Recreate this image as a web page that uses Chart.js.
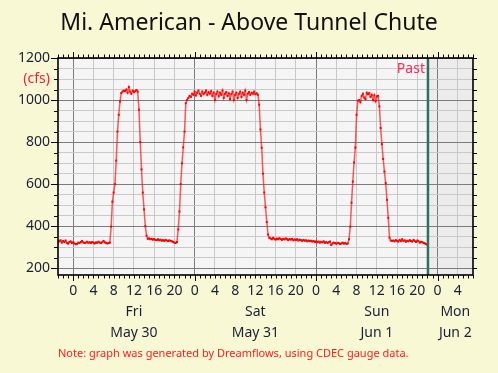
<!DOCTYPE html>
<html>
<head>
<meta charset="utf-8">
<script src="https://cdn.jsdelivr.net/npm/chart.js@4.4.1/dist/chart.umd.min.js"></script>
<style>
  html, body { margin: 0; padding: 0; background: #f8f8d4; }
  #wrap { width: 498px; height: 373px; }
</style>
</head>
<body>
<div id="wrap"><canvas id="flow" width="498" height="373"></canvas></div>
<script>
// readings every 15 min, first one 3 h before Fri May 30 0:00
const startHour = -3;
const stepHours = 0.25;
const flowCfs = [
  326, 328, 333, 322, 330, 325, 332, 321,
  317, 325, 328, 320, 324, 318, 315, 316,
  322, 320, 325, 330, 323, 320, 322, 326,
  321, 324, 320, 325, 322, 318, 323, 321,
  326, 322, 320, 324, 330, 323, 321, 318,
  320, 322,
  398, 517, 560, 600, 712, 850, 930, 993, 1033,
  1040, 1045, 1042, 1050, 1035, 1062, 1040, 1030, 1045, 1038, 1042, 1048, 1040,
  954, 800, 670, 560, 480, 400, 355, 340,
  342, 338, 340, 336, 339, 335, 334, 338, 333, 336, 331, 334,
  330, 335, 332, 329, 333, 330, 328, 326, 322, 320, 325,
  385, 470, 600, 700, 775, 850, 985, 1000, 1010,
  1020, 1015, 1030, 1025, 1040, 1022, 1035, 1045,
  1030, 1020, 1040, 1028, 1035, 1045, 1025, 1038,
  1030, 1042, 1020, 1035, 1000, 1028, 1040, 1018,
  1035, 1025, 1045, 1010, 1030, 1038, 1020, 1032,
  1005, 1028, 1040, 1000, 1025, 1035, 1010, 1030,
  1040, 1015, 1035, 1025, 1045, 1000, 1030, 1038,
  1025, 1035, 1030, 1040, 1028, 1032, 1025,
  978, 860, 773, 650, 560, 490, 420, 360, 345,
  342, 338, 345, 340, 336, 341, 338, 343,
  339, 335, 340, 337, 342, 338, 334, 339,
  336, 340, 333, 337, 335, 338, 332, 336,
  334, 330, 335, 331, 333, 328, 332, 329,
  331, 327, 330, 325, 328, 324, 327, 322,
  326, 323, 328, 321, 325, 320, 324, 327,
  311, 318, 322, 320, 316, 321, 319, 315,
  318, 322, 317, 320, 316, 318,
  338, 398, 512, 612, 703, 774, 930, 997,
  1000, 990, 1020, 1030, 1012, 1005, 1035, 1028,
  1033, 1015, 1025, 1000, 1022, 995, 1018, 1020,
  970, 867, 790, 720, 660, 605, 525, 440, 345, 332,
  330, 332, 328, 334, 330, 327, 335, 329,
  338, 330, 333, 326, 331, 328, 334, 330,
  327, 335, 329, 325, 332, 328, 322, 326,
  324, 320, 318, 315, 311
];
const dayNames = ['Fri', 'Sat', 'Sun', 'Mon'];
const dayDates = ['May 30', 'May 31', 'Jun 1', 'Jun 2'];
const xMin = -3, xMax = 79;
const yMin = 168, yMax = 1200;
const yTickStep = 50;
const pastHour = 70.1;

const FONT = "'Noto Sans', 'Open Sans', sans-serif";
const INK = '#1a2036';

const points = flowCfs.map((v, i) => ({ x: startHour + i * stepHours, y: v }));

const frame = {
  id: 'frame',
  beforeDraw(chart) {
    const { ctx, chartArea: a, scales: { x } } = chart;
    ctx.save();
    ctx.fillStyle = '#f5f5f5';
    ctx.fillRect(a.left, a.top, a.width, a.height);
    const px = x.getPixelForValue(pastHour);
    ctx.fillStyle = '#ececec';
    ctx.fillRect(px, a.top, a.right - px, a.height);
    ctx.restore();
  },
  afterDraw(chart) {
    const { ctx, chartArea: a, scales: { x, y } } = chart;
    ctx.save();

    // past marker
    const px = x.getPixelForValue(pastHour);
    ctx.strokeStyle = '#2f6f60';
    ctx.lineWidth = 2.5;
    ctx.beginPath();
    ctx.moveTo(px, a.top);
    ctx.lineTo(px, a.bottom);
    ctx.stroke();

    // border
    ctx.strokeStyle = '#000';
    ctx.lineWidth = 1.6;
    ctx.strokeRect(a.left, a.top, a.width, a.height);

    // tick marks outside all four sides
    ctx.lineWidth = 1;
    ctx.beginPath();
    for (let h = xMin; h <= xMax; h++) {
      const len = h % 24 === 0 ? 6 : 3.5;
      const tx = Math.round(x.getPixelForValue(h)) + 0.5;
      ctx.moveTo(tx, a.bottom); ctx.lineTo(tx, a.bottom + len);
      ctx.moveTo(tx, a.top); ctx.lineTo(tx, a.top - len);
    }
    for (let v = 200; v <= yMax; v += yTickStep) {
      const ty = Math.round(y.getPixelForValue(v)) + 0.5;
      const len = v % 200 === 0 ? 7 : 4;
      ctx.moveTo(a.left, ty); ctx.lineTo(a.left - len, ty);
      ctx.moveTo(a.right, ty); ctx.lineTo(a.right + 4, ty);
    }
    ctx.stroke();

    // day / date rows
    ctx.fillStyle = INK;
    ctx.font = '14px ' + FONT;
    ctx.textAlign = 'center';
    ctx.textBaseline = 'middle';
    dayNames.forEach((d, i) => {
      const start = i * 24;
      const end = Math.min(start + 24, xMax);
      const cx = x.getPixelForValue((start + end) / 2);
      ctx.fillText(d, cx, 312);
      ctx.fillText(dayDates[i], cx, 333);
    });

    // units and past labels
    ctx.fillStyle = '#f0203a';
    ctx.textAlign = 'right';
    ctx.fillText('(cfs)', a.left - 8, y.getPixelForValue(1100));
    ctx.fillStyle = '#ff2a55';
    ctx.fillText('Past', px - 3, 69);

    // title
    ctx.fillStyle = '#111';
    ctx.font = '23px ' + FONT;
    ctx.textAlign = 'center';
    ctx.fillText('Mi. American - Above Tunnel Chute', 249, 23);

    // note
    ctx.fillStyle = '#ff1a1a';
    ctx.font = '11px ' + FONT;
    ctx.textAlign = 'left';
    ctx.fillText('Note: graph was generated by Dreamflows, using CDEC gauge data.', 58, 354);

    ctx.restore();
  }
};

new Chart(document.getElementById('flow'), {
  type: 'line',
  data: {
    datasets: [{
      data: points,
      borderColor: 'rgba(255, 20, 20, 0.7)',
      borderWidth: 1.5,
      pointStyle: 'rect',
      pointRadius: 1.4,
      pointBackgroundColor: '#ff0000',
      pointBorderColor: '#ff0000',
      pointBorderWidth: 0,
      tension: 0
    }]
  },
  options: {
    responsive: false,
    animation: false,
    events: [],
    layout: { padding: { top: 58, right: 25, bottom: 0, left: 0 } },
    plugins: { legend: { display: false }, tooltip: { enabled: false } },
    scales: {
      x: {
        type: 'linear',
        min: xMin,
        max: xMax,
        afterFit: s => { s.height = 98; },
        border: { display: false },
        grid: {
          drawTicks: false,
          lineWidth: 1,
          color: c => c.tick.value % 24 === 0 ? '#7c7c7c' : (c.tick.value % 4 === 0 ? '#c9c9c9' : 'rgba(0,0,0,0)')
        },
        ticks: {
          stepSize: 1,
          autoSkip: false,
          maxRotation: 0,
          padding: 8,
          color: INK,
          font: { family: FONT, size: 14 },
          callback: v => v % 4 === 0 ? String(((v % 24) + 24) % 24) : ''
        }
      },
      y: {
        min: yMin,
        max: yMax,
        afterFit: s => { s.width = 58; },
        afterBuildTicks: s => {
          const t = [];
          for (let v = 200; v <= yMax; v += yTickStep) t.push({ value: v });
          s.ticks = t;
        },
        border: { display: false },
        grid: {
          drawTicks: false,
          lineWidth: 1,
          color: c => c.tick.value % 200 === 0 ? '#7c7c7c' : '#c9c9c9'
        },
        ticks: {
          autoSkip: false,
          padding: 8,
          color: INK,
          font: { family: FONT, size: 14 },
          callback: v => v % 200 === 0 ? String(v) : ''
        }
      }
    }
  },
  plugins: [frame]
});
</script>
</body>
</html>
